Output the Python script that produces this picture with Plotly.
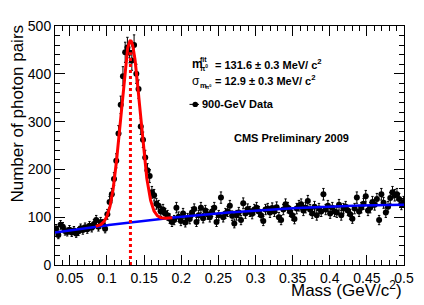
import numpy as np
import plotly.graph_objects as go

# ---------------- data ----------------
bin_low = 0.03
bin_width = 0.003
counts = [
    76, 63, 84, 80, 71, 69, 74, 68, 72, 66,
    70, 77, 73, 79, 75, 82, 78, 86, 94, 80,
    90, 86, 76, 106, 132, 148, 180, 218, 275, 335,
    395, 445, 455, 444, 428, 460, 400, 368, 290, 262,
    225, 198, 186, 152, 146, 128, 124, 112, 116, 108,
    104, 97, 90, 94, 120, 101, 92, 108, 89, 98,
    96, 110, 117, 90, 104, 120, 98, 114, 106, 100,
    112, 120, 90, 104, 141, 100, 108, 112, 124, 103,
    87, 104, 110, 94, 129, 108, 117, 112, 107, 116,
    120, 112, 104, 92, 116, 118, 110, 119, 112, 121,
    100, 94, 116, 127, 120, 112, 104, 96, 118, 124,
    127, 114, 120, 134, 116, 108, 122, 104, 118, 112,
    148, 116, 124, 108, 120, 112, 110, 126, 104, 118,
    122, 114, 106, 97, 118, 141, 112, 120, 128, 144,
    114, 120, 132, 126, 138, 94, 148, 130, 110, 122,
    140, 152, 146, 148, 138, 127, 132,
]

# fit parameters (gaussian + quadratic background)
fit_mean = 0.1316
fit_sigma = 0.0129
fit_amp = 380.0
bg_coef = [60.8, 247.0, -233.0]
fit_range = [0.085, 0.188]
x_range = [0.03, 0.5]
y_range = [0, 500]
peak_line_top = 445

x_ticks = [0.05, 0.1, 0.15, 0.2, 0.25, 0.3, 0.35, 0.4, 0.45, 0.5]
x_tick_labels = ["0.05", "0.1", "0.15", "0.2", "0.25", "0.3", "0.35", "0.4", "0.45", "0.5"]
y_ticks = [0, 100, 200, 300, 400, 500]
y_tick_labels = ["0", "100", "200", "300", "400", "500"]

# ---------------- derived ----------------
counts_arr = np.array(counts, dtype=float)
x_centers = bin_low + bin_width * (np.arange(len(counts)) + 0.5)
errors = np.sqrt(counts_arr)


def bg(x):
    return bg_coef[0] + bg_coef[1] * x + bg_coef[2] * x ** 2


xb = np.linspace(x_range[0], x_range[1], 300)
xs = np.linspace(fit_range[0], fit_range[1], 300)
ys = fit_amp * np.exp(-0.5 * ((xs - fit_mean) / fit_sigma) ** 2) + bg(xs)

# page body has an 8px margin: compensate so the plot lands where the reference has it
OFF = 8
W, H = 424 - OFF, 305 - OFF
ML, MR, MT, MB = 55 - OFF, 20, 18 - OFF, 40
PW, PH = W - ML - MR, H - MT - MB


def px(x):  # page pixel -> paper
    return (x - OFF - ML) / PW


def py(y):
    return (H + OFF - MB - y) / PH


FONT = "Liberation Sans, Arial, Helvetica, sans-serif"

fig = go.Figure()
fig.add_trace(go.Scatter(
    x=x_centers, y=counts_arr, mode="markers",
    marker=dict(color="black", size=6, symbol="circle"),
    error_y=dict(type="data", array=errors, color="black", thickness=1, width=1.2),
    showlegend=False, hoverinfo="skip"))
fig.add_trace(go.Scatter(
    x=xb, y=bg(xb), mode="lines",
    line=dict(color="#0000ff", width=2.5), showlegend=False, hoverinfo="skip"))
fig.add_trace(go.Scatter(
    x=xs, y=ys, mode="lines",
    line=dict(color="#ff0000", width=3), showlegend=False, hoverinfo="skip"))
fig.add_trace(go.Scatter(
    x=[fit_mean, fit_mean], y=[0, peak_line_top], mode="lines",
    line=dict(color="#ff0000", width=3, dash="dot"), showlegend=False, hoverinfo="skip"))

axis_common = dict(
    showgrid=False, zeroline=False, showline=True, linecolor="black", linewidth=1,
    mirror="ticks", ticks="inside", ticklen=10, tickwidth=1, tickcolor="black",
    tickfont=dict(family=FONT, size=14, color="black"),
)

fig.update_xaxes(range=x_range, tickvals=x_ticks, ticktext=x_tick_labels,
                 minor=dict(ticks="inside", ticklen=5, dtick=0.01, tick0=0.0,
                            tickcolor="black", tickwidth=1, showgrid=False),
                 **axis_common)
fig.update_yaxes(range=y_range, tickvals=y_ticks, ticktext=y_tick_labels,
                 minor=dict(ticks="inside", ticklen=5, dtick=20, tick0=0,
                            tickcolor="black", tickwidth=1, showgrid=False),
                 **axis_common)

ann = []


def add_text(text, x, y, size, bold=True, xanchor="left", yanchor="middle", angle=0, family=FONT):
    t = f"<b>{text}</b>" if bold else text
    ann.append(dict(text=t, x=px(x), y=py(y), xref="paper", yref="paper",
                    xanchor=xanchor, yanchor=yanchor, showarrow=False, textangle=angle,
                    font=dict(family=family, size=size, color="black")))


# axis titles
add_text("Number of photon pairs", 17.5, 15, 17, bold=False, xanchor="center", yanchor="top", angle=-90)
add_text("Mass (GeV/c<sup>2</sup>)", 404, 290, 17, bold=False, xanchor="right")

# fit result text
add_text("m", 190, 57.5, 12)
add_text("fit", 198, 53, 7)
add_text("π<sup>0</sup>", 198, 61, 7)
add_text("= 131.6 ± 0.3 MeV/ c<sup>2</sup>", 213, 57.5, 11)

add_text("σ", 190, 74.5, 12, bold=False)
add_text("m", 197.5, 79, 7.5)
add_text("π<sup>0</sup>", 203, 81.5, 5.5)
add_text("= 12.9 ± 0.3 MeV/ c<sup>2</sup>", 213, 73.5, 11)

add_text("900-GeV Data", 199.5, 99, 11)
add_text("CMS Preliminary 2009", 291, 134, 11, xanchor="center")

shapes = [
    dict(type="line", xref="paper", yref="paper", x0=px(189.5), x1=px(199), y0=py(99), y1=py(99),
         line=dict(color="black", width=1)),
    dict(type="circle", xref="paper", yref="paper", x0=px(192.5), x1=px(198), y0=py(96.2), y1=py(101.8),
         fillcolor="black", line=dict(color="black", width=0)),
]

fig.update_layout(
    width=W, height=H, margin=dict(l=ML, r=MR, t=MT, b=MB),
    paper_bgcolor="white", plot_bgcolor="white",
    annotations=ann, shapes=shapes, showlegend=False,
    font=dict(family=FONT, color="black"),
)

fig.write_html("out.html")
